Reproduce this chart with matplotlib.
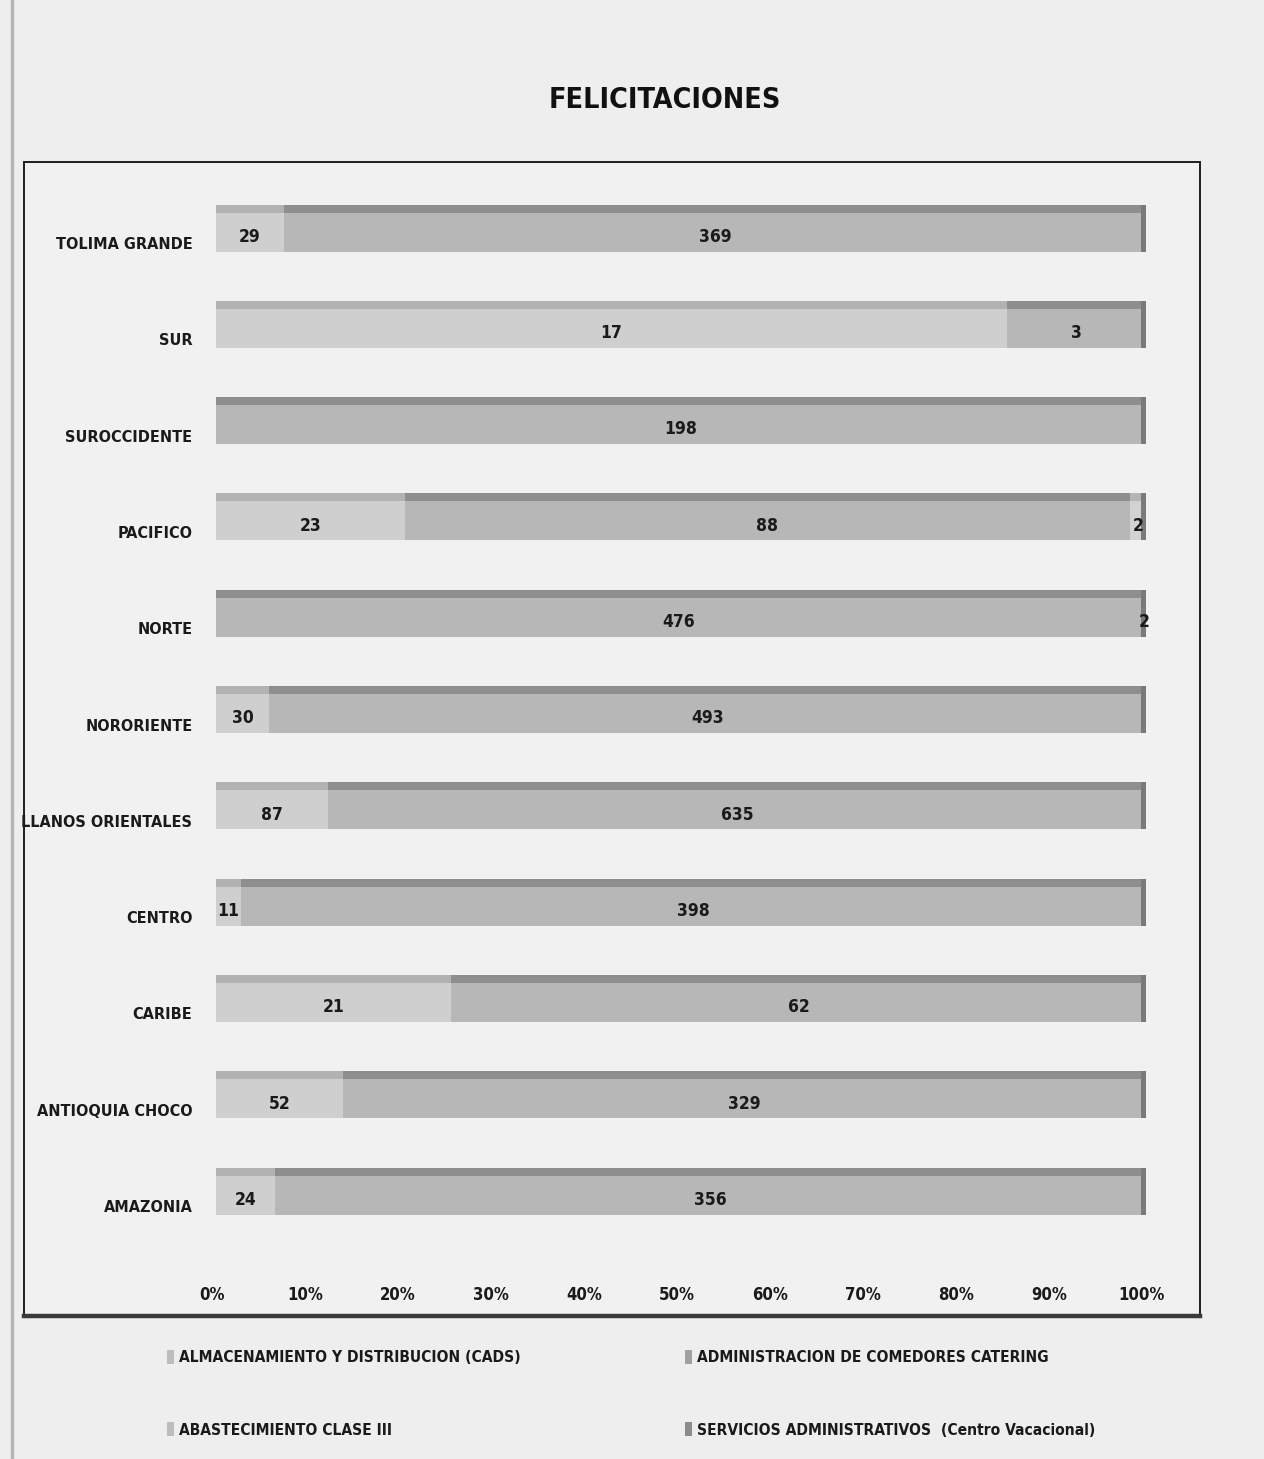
import matplotlib
matplotlib.use('Agg')
import matplotlib.pyplot as plt
import numpy as np
from matplotlib.patches import Rectangle, Patch
from matplotlib.lines import Line2D
from matplotlib.transforms import ScaledTranslation
from matplotlib import font_manager

plt.rcParams['font.family'] = ['DejaVu Sans']
plt.rcParams['font.stretch'] = 'condensed'
FONT = ['DejaVu Sans']

# ---------------- data ----------------
categories = ['TOLIMA GRANDE', 'SUR', 'SUROCCIDENTE', 'PACIFICO', 'NORTE',
              'NORORIENTE', 'LLANOS ORIENTALES', 'CENTRO', 'CARIBE',
              'ANTIOQUIA CHOCO', 'AMAZONIA']
almacenamiento = [29, 17, 0, 23, 0, 30, 87, 11, 21, 52, 24]
comedores      = [369, 3, 198, 88, 476, 493, 635, 398, 62, 329, 356]
abastecimiento = [0, 0, 0, 2, 2, 0, 0, 0, 0, 0, 0]
servicios      = [0, 0, 0, 0, 0, 0, 0, 0, 0, 0, 0]
series_names = ['ALMACENAMIENTO Y DISTRIBUCION (CADS)',
                'ADMINISTRACION DE COMEDORES CATERING',
                'ABASTECIMIENTO CLASE III',
                'SERVICIOS ADMINISTRATIVOS  (Centro Vacacional)']
xtick_values = [0, 10, 20, 30, 40, 50, 60, 70, 80, 90, 100]
xtick_labels = ['0%', '10%', '20%', '30%', '40%', '50%', '60%', '70%', '80%', '90%', '100%']
title = 'FELICITACIONES'

# ---------------- style ----------------
face_colors = ['#cfcfcf', '#b7b7b7', '#d2d2d2', '#a3a3a3']
top_colors  = ['#b2b2b2', '#8e8e8e', '#b5b5b5', '#7c7c7c']
legend_colors = ['#bdbdbd', '#a0a0a0', '#bdbdbd', '#8c8c8c']
bg = '#eeeeee'

W, H = 1264, 1459
fig = plt.figure(figsize=(W / 100, H / 100), dpi=100, facecolor=bg)

# page edge shadow on the left
fig.add_artist(Line2D([12 / W, 12 / W], [0, 1], transform=fig.transFigure,
                      color='#b4b4b4', lw=2.5, zorder=-6))

# frame around the chart area
frame = Rectangle((24 / W, 1 - 1315 / H), (1200 - 24) / W, (1315 - 162) / H,
                  transform=fig.transFigure, fill=True, facecolor='#f1f1f1',
                  edgecolor='#1e1e1e', linewidth=1.4, zorder=-5)
fig.add_artist(frame)
fig.add_artist(Line2D([24 / W, 1200 / W], [1 - 1316 / H, 1 - 1316 / H],
                      transform=fig.transFigure, color='#3a3a3a', lw=3.2, zorder=-4))

# axes geometry (pixel based)
y_top_c, y_bot_c = 232, 1195
step = (y_bot_c - y_top_c) / 10
ax_left, ax_right = 216, 1146
ax_top = y_top_c - step / 2
ax_bot = y_bot_c + step / 2
ax = fig.add_axes([ax_left / W, 1 - ax_bot / H, (ax_right - ax_left) / W, (ax_bot - ax_top) / H])
ax.set_facecolor('none')
ax.set_zorder(5)

series = [almacenamiento, comedores, abastecimiento, servicios]
data = np.array(series, dtype=float)
totals = data.sum(axis=0)
pct = data / totals * 100.0

y = np.arange(len(categories))
front_h = 39 / step
top_h = 8 / step

txt_kw = dict(fontweight='bold', fontstretch='condensed', color='#1a1a1a')

left = np.zeros(len(categories))
for i in range(len(series)):
    widths = pct[i]
    ax.barh(y, widths, left=left, height=front_h, color=face_colors[i],
            edgecolor='none', zorder=2)
    ax.barh(y - front_h / 2 - top_h / 2, widths, left=left, height=top_h,
            color=top_colors[i], edgecolor='none', zorder=2)
    for j in range(len(categories)):
        v = data[i, j]
        if v > 0:
            ax.text(left[j] + widths[j] / 2, y[j] + 0.05, f'{int(v)}',
                    ha='center', va='center', fontsize=12.5, zorder=5, **txt_kw)
    left = left + widths

# right side face of each 3D bar
ax.barh(y - top_h / 2, np.full(len(categories), 0.55), left=left - 0.55,
        height=front_h + top_h, color='#7a7a7a', edgecolor='none', zorder=3)

ax.set_xlim(0, 100)
ax.set_ylim(len(categories) - 0.5, -0.5)
ax.set_yticks(y)
ax.set_yticklabels(categories, fontsize=11.6, **txt_kw)
ax.set_xticks(xtick_values)
ax.set_xticklabels(xtick_labels, fontsize=12, **txt_kw)
ax.tick_params(axis='y', length=0, pad=17)
ax.tick_params(axis='x', length=0, pad=31)
for lbl in ax.get_xticklabels():
    lbl.set_transform(lbl.get_transform() + ScaledTranslation(-4 / 100, 0, fig.dpi_scale_trans))
for lbl in ax.get_yticklabels():
    lbl.set_transform(lbl.get_transform() + ScaledTranslation(0, -11 / 100, fig.dpi_scale_trans))
for s in ax.spines.values():
    s.set_visible(False)

fig.text(665 / W, 1 - 100 / H, title, ha='center', va='center',
         fontsize=20.5, fontweight='bold', fontstretch='condensed', color='#111111')

# legend: two columns, row-major order as in the original
handles = [Patch(facecolor=legend_colors[i], edgecolor='none') for i in range(4)]
leg_prop = font_manager.FontProperties(family=FONT, weight='bold', stretch='condensed', size=11.2)
leg_kw = dict(frameon=False, handlelength=0.45, handleheight=1.0, handletextpad=0.35,
              labelspacing=3.66, borderpad=0, borderaxespad=0,
              prop=leg_prop, labelcolor='#1a1a1a')
leg1 = fig.legend([handles[0], handles[2]], [series_names[0], series_names[2]],
                  loc='upper left', bbox_to_anchor=(167 / W, 1 - 1350 / H), **leg_kw)
leg2 = fig.legend([handles[1], handles[3]], [series_names[1], series_names[3]],
                  loc='upper left', bbox_to_anchor=(685 / W, 1 - 1350 / H), **leg_kw)

fig.savefig('out.png', dpi=100, facecolor=bg)
